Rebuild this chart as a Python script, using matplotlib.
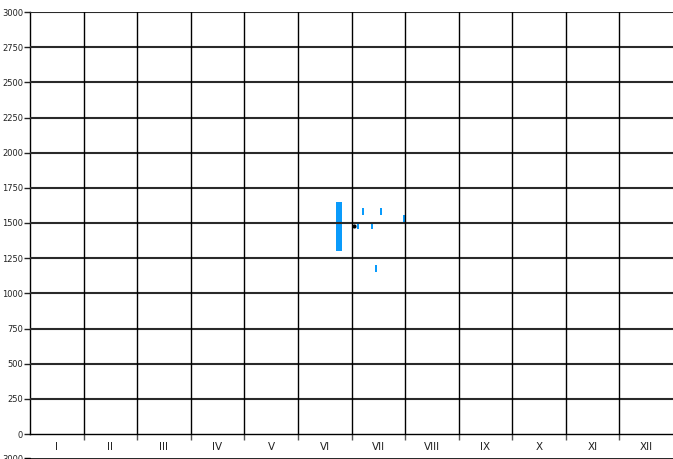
import matplotlib
matplotlib.use("Agg")
import matplotlib.pyplot as plt
import numpy as np

# Data (x in months, 0 = start of January)
months = ["I", "II", "III", "IV", "V", "VI", "VII", "VIII", "IX", "X", "XI", "XII"]
yticks = [0, 250, 500, 750, 1000, 1250, 1500, 1750, 2000, 2250, 2500, 2750, 3000]

wide_x = [5.77]
wide_low = [1300]
wide_high = [1650]

thin_x = [6.12, 6.21, 6.38, 6.45, 6.55, 6.98]
thin_low = [1455, 1555, 1455, 1150, 1555, 1505]
thin_high = [1500, 1605, 1500, 1200, 1605, 1555]

dot_x = [6.05]
dot_y = [1478]

W, H = 673, 459
fig = plt.figure(figsize=(W / 100, H / 100), dpi=100)
plt.rcParams['font.family'] = ['DejaVu Sans']

ax = fig.add_axes([30 / W, (H - 434) / H, 1 - 30 / W, (434 - 12) / H])
ax.set_xlim(0, 12)
ax.set_ylim(0, 3000)

blue = "#0a9bfb"
ax.bar(wide_x, np.array(wide_high) - np.array(wide_low), bottom=wide_low,
       width=0.11, color=blue, zorder=2)
ax.bar(thin_x, np.array(thin_high) - np.array(thin_low), bottom=thin_low,
       width=0.035, color=blue, zorder=2)
ax.scatter(dot_x, dot_y, s=9, color="black", zorder=5, linewidths=0)

# grid lines
for v in yticks[1:]:
    ax.axhline(v, color="#2a2a2a", lw=1.5, zorder=3)
for m in range(1, 12):
    ax.axvline(m, color="black", lw=1.0, zorder=3)

for s in ["top", "right"]:
    ax.spines[s].set_visible(False)
ax.spines["left"].set_linewidth(1.0)
ax.spines["bottom"].set_linewidth(1.0)

ax.set_yticks(yticks)
ax.set_yticklabels([str(v) for v in yticks], fontsize=6, color="#222222")
ax.tick_params(axis="y", length=4, width=1, pad=1, colors="#222222")

ax.set_xticks(range(1, 12))
ax.set_xticklabels([])
ax.tick_params(axis="x", which="major", length=4, width=1, color="#555555")
ax.set_xticks(np.arange(12) + 0.5, minor=True)
ax.set_xticklabels(months, minor=True, fontsize=7.5, color="#222222")
ax.tick_params(axis="x", which="minor", length=0, pad=6)

# partially visible second chart below
ax2 = fig.add_axes([30 / W, -0.5, 1 - 30 / W, 0.5 + 1 / H])
ax2.set_xlim(0, 12)
ax2.set_ylim(0, 3000)
ax2.axhline(3000, color="#2a2a2a", lw=1.5)
for s in ["top", "right", "bottom"]:
    ax2.spines[s].set_visible(False)
ax2.set_yticks([3000])
ax2.set_yticklabels(["3000"], fontsize=6, color="#222222")
ax2.tick_params(axis="y", length=4, width=1, pad=1)
ax2.set_xticks([])
ax2.patch.set_alpha(0)

fig.savefig("out.png", dpi=100)
